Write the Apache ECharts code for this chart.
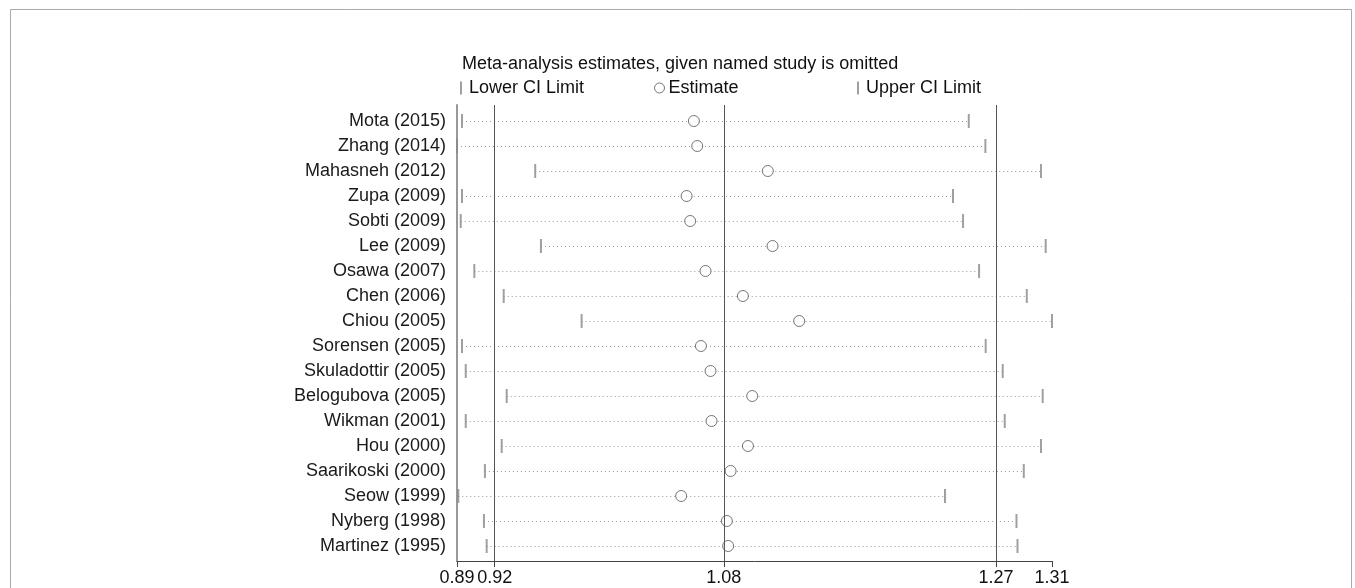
<!DOCTYPE html>
<html>
<head>
<meta charset="utf-8">
<script src="https://cdn.jsdelivr.net/npm/echarts@6/dist/echarts.min.js"></script>
<style>
html,body{margin:0;padding:0;background:#fff;}
#chart{width:1355px;height:588px;}
</style>
</head>
<body>
<div id="chart"></div>
<script>
const studies = ["Mota (2015)","Zhang (2014)","Mahasneh (2012)","Zupa (2009)","Sobti (2009)","Lee (2009)","Osawa (2007)","Chen (2006)","Chiou (2005)","Sorensen (2005)","Skuladottir (2005)","Belogubova (2005)","Wikman (2001)","Hou (2000)","Saarikoski (2000)","Seow (1999)","Nyberg (1998)","Martinez (1995)"];
const lowerCI = [0.8972,0.8937,0.9483,0.8972,0.8963,0.9523,0.9058,0.9263,0.9807,0.8972,0.8998,0.9284,0.8998,0.9249,0.9132,0.8946,0.9125,0.9144];
const estimate = [1.0591,1.0614,1.1107,1.0540,1.0565,1.1140,1.0672,1.0933,1.1326,1.0640,1.0707,1.0998,1.0714,1.0968,1.0847,1.0502,1.0821,1.0830];
const upperCI = [1.2510,1.2626,1.3014,1.2400,1.2470,1.3047,1.2582,1.2915,1.3091,1.2628,1.2747,1.3026,1.2761,1.3014,1.2894,1.2344,1.2843,1.2850];
const overall = [0.92, 1.08, 1.27];
const titleText = "Meta-analysis estimates, given named study is omitted";
const legendNames = ["Lower CI Limit", "Estimate", "Upper CI Limit"];

const xMin = Math.min(...lowerCI);
const xMax = Math.max(...upperCI);
const tickValues = [xMin, ...overall, xMax];
const rowIdx = studies.map((s, i) => i);

const font = "Arial, 'Liberation Sans', sans-serif";
const legendText = {fontFamily: font, fontSize: 18, color: '#111'};
const chart = echarts.init(document.getElementById('chart'));
chart.setOption({
  animation: false,
  backgroundColor: '#fff',
  title: {
    text: titleText, left: 457, top: 50, padding: 5,
    textStyle: {fontFamily: font, fontSize: 18, fontWeight: 'normal', color: '#111'}
  },
  legend: [
    {data: [legendNames[0]], left: 460, top: 79, padding: 0, itemWidth: 2, itemHeight: 13,
     textStyle: Object.assign({padding: [0,0,0,2]}, legendText)},
    {data: [legendNames[1]], left: 654, top: 79, padding: 0, itemWidth: 10, itemHeight: 10,
     itemStyle: {borderWidth: 1}, textStyle: Object.assign({padding: [0,0,0,-1]}, legendText)},
    {data: [legendNames[2]], left: 857, top: 79, padding: 0, itemWidth: 2, itemHeight: 13,
     textStyle: Object.assign({padding: [0,0,0,2]}, legendText)}
  ],
  grid: {left: 457, right: 303, top: 105, bottom: 27, containLabel: false},
  xAxis: {
    type: 'value', min: xMin, max: xMax,
    axisLine: {show: true, onZero: false, lineStyle: {color: '#444', width: 1}},
    axisTick: {show: true, customValues: tickValues, length: 6, lineStyle: {color: '#444'}},
    axisLabel: {customValues: tickValues, formatter: v => v.toFixed(2), margin: 8,
      fontFamily: font, fontSize: 18, color: '#111', showMinLabel: true, showMaxLabel: true},
    splitLine: {show: false}
  },
  yAxis: {
    type: 'value', inverse: true, min: -0.64, max: 17.6,
    axisLine: {show: true, onZero: false, lineStyle: {color: '#999', width: 2}},
    axisTick: {show: false},
    axisLabel: {customValues: rowIdx, formatter: v => studies[Math.round(v)] || '', margin: 11,
      fontFamily: font, fontSize: 18, color: '#1a1a1a'},
    splitLine: {show: false}
  },
  graphic: [{
    type: 'rect', shape: {x: 10.5, y: 9.5, width: 1341, height: 620},
    style: {fill: null, stroke: '#aaa', lineWidth: 1}, silent: true, z: -10
  }],
  series: [
    {
      type: 'custom', name: 'ci', silent: true,
      data: studies.map((s, i) => [lowerCI[i], upperCI[i], i]),
      encode: {x: [0, 1], y: 2},
      renderItem: (params, api) => {
        const y = api.value(2);
        const p1 = api.coord([api.value(0), y]);
        const p2 = api.coord([api.value(1), y]);
        return {type: 'line', shape: {x1: p1[0], y1: Math.round(p1[1]) + 0.5, x2: p2[0], y2: Math.round(p2[1]) + 0.5},
          style: {stroke: '#9a9a9a', lineWidth: 1, lineDash: [1, 3]}};
      },
      markLine: {
        silent: true, symbol: 'none', label: {show: false},
        lineStyle: {color: '#555', type: 'solid', width: 1},
        data: overall.map(v => ({xAxis: v}))
      },
      z: 1
    },
    {
      type: 'scatter', name: legendNames[0],
      data: studies.map((s, i) => [lowerCI[i], i]),
      symbol: 'rect', symbolSize: [2, 14],
      itemStyle: {color: '#888'}, z: 3
    },
    {
      type: 'scatter', name: legendNames[1],
      data: studies.map((s, i) => [estimate[i], i]),
      symbol: 'circle', symbolSize: 11,
      itemStyle: {color: '#fff', borderColor: '#555', borderWidth: 1}, z: 4
    },
    {
      type: 'scatter', name: legendNames[2],
      data: studies.map((s, i) => [upperCI[i], i]),
      symbol: 'rect', symbolSize: [2, 14],
      itemStyle: {color: '#888'}, z: 3
    }
  ]
});
</script>
</body>
</html>
